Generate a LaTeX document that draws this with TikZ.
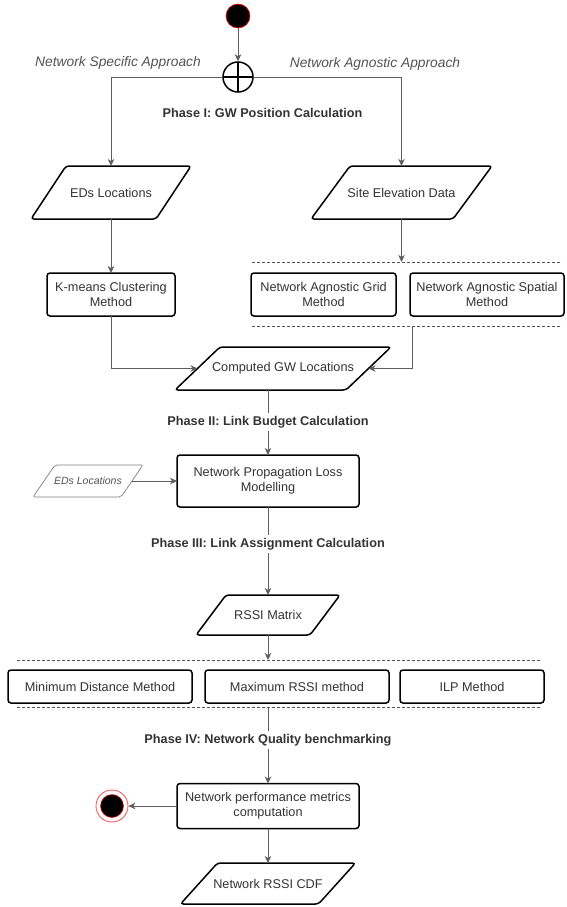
\documentclass[tikz,border=0pt]{standalone}
\usepackage{fontspec}
\setmainfont{Liberation Sans}
\usetikzlibrary{arrows.meta,calc}
\definecolor{txtc}{HTML}{333333}
\definecolor{linec}{HTML}{5E5E5E}
\definecolor{dashc}{HTML}{555555}
\newcommand{\drawpara}[3][]{%
  \draw[parabox,#1] ([xshift={-0.5*(#3)}]#2.south west) -- ([xshift={0.5*(#3)}]#2.north west)
    -- ([xshift={0.5*(#3)}]#2.north east) -- ([xshift={-0.5*(#3)}]#2.south east) -- cycle;}
\tikzset{
  base/.style={font=\fontsize{12.7}{15}\selectfont, text=txtc, align=center},
  box/.style={base, draw=black, line width=1.5pt, rounded corners=3pt, inner sep=0pt, outer sep=0pt},
  paranode/.style={base, inner sep=0pt, outer sep=0pt},
  parabox/.style={draw=black, line width=1.5pt, rounded corners=3pt},
  thinpara/.style={draw=linec!80, line width=0.7pt, rounded corners=2pt},
  phase/.style={base, font=\bfseries\fontsize{12.7}{15}\selectfont, inner sep=3pt},
  approach/.style={font=\itshape\fontsize{13.8}{16}\selectfont, text=txtc!85},
  conn/.style={draw=linec, line width=0.9pt, -{Stealth[length=7pt,width=6.5pt,inset=2pt]}},
  plainline/.style={draw=linec, line width=0.9pt},
  dashline/.style={draw=dashc, line width=0.7pt, dash pattern=on 3pt off 2pt},
  startnode/.style={circle, minimum size=24pt, inner sep=0pt, fill=black, draw=red, line width=0.6pt},
  opsnode/.style={circle, minimum size=30pt, inner sep=0pt, draw=black, line width=1.5pt, fill=white,
    path picture={\draw[line width=1.5pt] (path picture bounding box.north) -- (path picture bounding box.south)
      (path picture bounding box.west) -- (path picture bounding box.east);}},
  endnode/.style={circle, minimum size=32pt, inner sep=0pt, draw=red!70, line width=0.8pt, fill=white,
    path picture={\draw[fill=black, draw=red, line width=0.5pt] (path picture bounding box.center) circle (11.5pt);}},
}
\begin{document}
\begin{tikzpicture}[x=1pt,y=-1pt]
\useasboundingbox (0,0) rectangle (566,907);
% top
\node[startnode] (start) at (238,16) {};
\node[opsnode] (ops) at (238,77) {};
\node[approach] (nsa) at (118,63) {Network Specific Approach};
\node[approach] (naa) at (375,64) {Network Agnostic Approach};
\node[phase] (ph1) at (262.5,113) {Phase I: GW Position Calculation};
% phase I
\node[paranode, minimum width=125pt, minimum height=53pt] (eds1) at (111,192.5) {EDs Locations};
\drawpara{eds1}{35pt}
\node[paranode, minimum width=142pt, minimum height=53pt] (site) at (401.5,192.5) {Site Elevation Data};
\drawpara{site}{39pt}
\node[box, minimum width=128pt, minimum height=43pt] (km) at (111,294.5) {K-means Clustering\\Method};
\node[box, minimum width=145pt, minimum height=43pt] (grid) at (323.5,294.5) {Network Agnostic Grid\\Method};
\node[box, minimum width=154pt, minimum height=43pt] (spat) at (487,294.5) {Network Agnostic Spatial\\Method};
\draw[dashline] (252,262) -- (562,262);
\draw[dashline] (252,326) -- (562,326);
\coordinate (gtop) at (401.5,262);
\coordinate (gbot) at (412,326);
\node[paranode, minimum width=171pt, minimum height=43pt] (gwloc) at (283,368.5) {Computed GW Locations};
\drawpara{gwloc}{45pt}
% phase II
\node[phase] (ph2) at (268,422) {Phase II: Link Budget Calculation};
\node[box, minimum width=182pt, minimum height=52pt] (prop) at (268,481) {Network Propagation Loss\\Modelling};
\node[paranode, minimum width=88pt, minimum height=32pt, font=\itshape\fontsize{10.5}{12}\selectfont, text=txtc!85] (eds2) at (88,481) {EDs Locations};
\drawpara[thinpara]{eds2}{22pt}
% phase III
\node[phase] (ph3) at (268,544) {Phase III: Link Assignment Calculation};
\node[paranode, minimum width=114pt, minimum height=40pt] (rssi) at (268,615) {RSSI Matrix};
\drawpara{rssi}{30pt}
\draw[dashline] (17,660) -- (540,660);
\draw[dashline] (17,707) -- (540,707);
\coordinate (mtop) at (268,660);
\coordinate (mbot) at (268,707);
\node[box, minimum width=184pt, minimum height=33pt] (mind) at (100,686.5) {Minimum Distance Method};
\node[box, minimum width=184pt, minimum height=33pt] (maxr) at (297,686.5) {Maximum RSSI method};
\node[box, minimum width=144pt, minimum height=33pt] (ilp) at (472,686.5) {ILP Method};
% phase IV
\node[phase] (ph4) at (268,740) {Phase IV: Network Quality benchmarking};
\node[box, minimum width=182pt, minimum height=45pt] (perf) at (268,806) {Network performance metrics\\computation};
\node[endnode] (fin) at (112,806) {};
\node[paranode, minimum width=138pt, minimum height=41pt] (cdf) at (268,883.5) {Network RSSI CDF};
\drawpara{cdf}{37pt}
% connectors
\draw[conn] (start) -- (ops);
\draw[conn] (ops.west) -| (eds1.north);
\draw[conn] (ops.east) -| (site.north);
\draw[conn] (eds1.south) -- (km.north);
\draw[conn] (site.south) -- (gtop);
\draw[conn] (km.south) |- (gwloc.west);
\draw[conn] (gbot) |- (gwloc.east);
\draw[plainline] (ph2 |- gwloc.south) -- (ph2);
\draw[conn] (ph2) -- (prop);
\draw[conn] (eds2.east) -- (prop.west);
\draw[plainline] (prop) -- (ph3);
\draw[conn] (ph3) -- (rssi.north);
\draw[conn] (rssi.south) -- (mtop);
\draw[plainline] (mbot) -- (ph4);
\draw[conn] (ph4) -- (perf);
\draw[conn] (perf.west) -- (fin);
\draw[conn] (perf.south) -- (cdf.north);
\end{tikzpicture}
\end{document}
